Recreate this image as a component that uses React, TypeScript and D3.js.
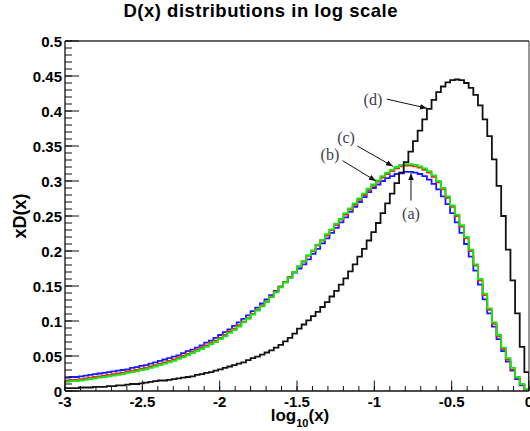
import React from "react";
import * as d3 from "d3";

const BIN_MIN = -3;
const BIN_WIDTH = 0.03;

// (a) blue
const seriesA = [
  0.019, 0.020, 0.020, 0.021, 0.022, 0.023, 0.024, 0.025, 0.026, 0.027,
  0.028, 0.029, 0.030, 0.031, 0.033, 0.034, 0.036, 0.037, 0.039, 0.041,
  0.043, 0.045, 0.047, 0.049, 0.051, 0.054, 0.057, 0.059, 0.062, 0.065,
  0.069, 0.072, 0.076, 0.080, 0.084, 0.088, 0.093, 0.098, 0.103, 0.108,
  0.114, 0.119, 0.125, 0.131, 0.137, 0.143, 0.149, 0.156, 0.162, 0.169,
  0.175, 0.181, 0.188, 0.196, 0.203, 0.211, 0.218, 0.226, 0.233, 0.241,
  0.248, 0.256, 0.263, 0.270, 0.277, 0.284, 0.290, 0.295, 0.300, 0.304,
  0.307, 0.310, 0.311, 0.313, 0.313, 0.312, 0.310, 0.307, 0.302, 0.296,
  0.288, 0.278, 0.267, 0.254, 0.241, 0.226, 0.210, 0.192, 0.172, 0.152,
  0.131, 0.111, 0.092, 0.074, 0.057, 0.042, 0.029, 0.017, 0.008, 0.002,
];

// (b) red
const seriesB = [
  0.015, 0.016, 0.016, 0.017, 0.018, 0.019, 0.020, 0.021, 0.022, 0.023,
  0.024, 0.025, 0.026, 0.028, 0.029, 0.030, 0.032, 0.033, 0.035, 0.037,
  0.039, 0.041, 0.043, 0.045, 0.048, 0.050, 0.053, 0.056, 0.059, 0.062,
  0.065, 0.069, 0.072, 0.076, 0.080, 0.085, 0.089, 0.094, 0.099, 0.104,
  0.110, 0.116, 0.122, 0.128, 0.135, 0.142, 0.149, 0.156, 0.163, 0.170,
  0.178, 0.185, 0.193, 0.200, 0.208, 0.215, 0.222, 0.230, 0.237, 0.245,
  0.252, 0.259, 0.266, 0.273, 0.280, 0.287, 0.293, 0.299, 0.305, 0.310,
  0.314, 0.318, 0.321, 0.322, 0.322, 0.321, 0.319, 0.316, 0.312, 0.306,
  0.298, 0.288, 0.276, 0.263, 0.250, 0.235, 0.218, 0.200, 0.179, 0.158,
  0.137, 0.116, 0.096, 0.078, 0.060, 0.045, 0.031, 0.019, 0.009, 0.003,
];

// (c) green
const seriesC = [
  0.013, 0.014, 0.014, 0.015, 0.016, 0.017, 0.018, 0.019, 0.020, 0.021,
  0.022, 0.023, 0.024, 0.026, 0.027, 0.028, 0.030, 0.031, 0.033, 0.035,
  0.037, 0.039, 0.041, 0.043, 0.046, 0.048, 0.051, 0.054, 0.057, 0.060,
  0.063, 0.067, 0.070, 0.074, 0.078, 0.083, 0.087, 0.092, 0.098, 0.103,
  0.109, 0.115, 0.121, 0.127, 0.134, 0.141, 0.148, 0.155, 0.162, 0.170,
  0.178, 0.186, 0.194, 0.201, 0.209, 0.216, 0.224, 0.231, 0.239, 0.246,
  0.254, 0.261, 0.268, 0.275, 0.282, 0.289, 0.295, 0.301, 0.307, 0.312,
  0.316, 0.320, 0.323, 0.324, 0.324, 0.323, 0.321, 0.318, 0.314, 0.308,
  0.300, 0.290, 0.278, 0.265, 0.252, 0.237, 0.220, 0.202, 0.181, 0.160,
  0.139, 0.118, 0.098, 0.080, 0.062, 0.047, 0.033, 0.020, 0.010, 0.003,
];

// (d) black
const seriesD = [
  0.004, 0.004, 0.004, 0.005, 0.005, 0.005, 0.006, 0.006, 0.006, 0.007,
  0.007, 0.008, 0.008, 0.009, 0.010, 0.010, 0.011, 0.012, 0.013, 0.014,
  0.015, 0.015, 0.016, 0.017, 0.018, 0.019, 0.020, 0.021, 0.023, 0.024,
  0.026, 0.027, 0.029, 0.031, 0.033, 0.035, 0.037, 0.039, 0.041, 0.044,
  0.047, 0.049, 0.052, 0.055, 0.058, 0.062, 0.066, 0.071, 0.076, 0.082,
  0.089, 0.095, 0.101, 0.107, 0.113, 0.120, 0.127, 0.135, 0.143, 0.152,
  0.161, 0.171, 0.181, 0.192, 0.203, 0.215, 0.227, 0.240, 0.254, 0.268,
  0.282, 0.297, 0.312, 0.327, 0.342, 0.357, 0.372, 0.388, 0.403, 0.416,
  0.427, 0.435, 0.441, 0.444, 0.445, 0.444, 0.440, 0.433, 0.423, 0.408,
  0.388, 0.364, 0.331, 0.293, 0.250, 0.202, 0.158, 0.111, 0.063, 0.027,
];

const xTickValues = [-3, -2.5, -2, -1.5, -1, -0.5, 0];
const xTickLabels = ["-3", "-2.5", "-2", "-1.5", "-1", "-0.5", "0"];
const yTickValues = [0, 0.05, 0.1, 0.15, 0.2, 0.25, 0.3, 0.35, 0.4, 0.45, 0.5];
const yTickLabels = ["0", "0.05", "0.1", "0.15", "0.2", "0.25", "0.3", "0.35", "0.4", "0.45", "0.5"];

const seriesList = [
  { name: "a", values: seriesA, color: "#1a1aff" },
  { name: "b", values: seriesB, color: "#e0301e" },
  { name: "c", values: seriesC, color: "#19e619" },
  { name: "d", values: seriesD, color: "#111111" },
];

const annLabels = ["(a)", "(b)", "(c)", "(d)"];
const annText = [
  [-0.763, 0.253],
  [-1.287, 0.337],
  [-1.183, 0.361],
  [-1.009, 0.416],
];
const annArrowFrom = [
  [-0.763, 0.272],
  [-1.205, 0.329],
  [-1.11, 0.350],
  [-0.92, 0.417],
];
const annArrowTo = [
  [-0.763, 0.311],
  [-0.99, 0.300],
  [-0.88, 0.321],
  [-0.66, 0.404],
];

const W = 530;
const H = 431;
const L = 65;
const R = 529;
const T = 41;
const B = 391;

export default function App() {
  const x = d3.scaleLinear().domain([-3, 0]).range([L, R]);
  const y = d3.scaleLinear().domain([0, 0.5]).range([B, T]);

  const makePath = (vals: number[]) => {
    const pts: [number, number][] = vals.map((v, i) => [BIN_MIN + i * BIN_WIDTH, v]);
    pts.push([BIN_MIN + vals.length * BIN_WIDTH, vals[vals.length - 1]]);
    const line = d3
      .line<[number, number]>()
      .x((d) => x(d[0]))
      .y((d) => y(d[1]))
      .curve(d3.curveStepAfter);
    const end = BIN_MIN + vals.length * BIN_WIDTH;
    return line(pts) + `L${x(end)},${y(0)}`;
  };

  const xMinor = d3.range(-3, 0.0001, 0.1).map((v) => +v.toFixed(2));
  const yMinor = d3.range(0, 0.5001, 0.01).map((v) => +v.toFixed(3));

  const font = "'Liberation Sans', Arial, Helvetica, sans-serif";

  return (
    <svg
      width={W}
      height={H}
      style={{ position: "absolute", left: 0, top: 0, background: "#fff" }}
      fontFamily={font}
    >
      <rect x={0} y={0} width={W} height={H} fill="#fff" />
      <defs>
        <clipPath id="plotclip">
          <rect x={L} y={T} width={R - L} height={B - T} />
        </clipPath>
        <marker
          id="arrowhead"
          viewBox="0 0 10 10"
          refX={10}
          refY={5}
          markerWidth={7}
          markerHeight={7}
          markerUnits="userSpaceOnUse"
          orient="auto"
        >
          <path d="M0,1 L10,5 L0,9 z" fill="#111" />
        </marker>
      </defs>

      {/* title */}
      <text
        x={260.5}
        y={17}
        textAnchor="middle"
        fontWeight="bold"
        fontSize={18.5}
        textLength={274}
        lengthAdjust="spacing"
      >
        D(x) distributions in log scale
      </text>

      {/* histograms */}
      <g clipPath="url(#plotclip)">
        {seriesList.map((s) => (
          <path
            key={s.name}
            d={makePath(s.values)}
            fill="none"
            stroke={s.color}
            strokeWidth={1.8}
          />
        ))}
      </g>

      {/* frame */}
      <line x1={L} x2={R} y1={T} y2={T} stroke="#333" strokeWidth={1.5} />
      <line x1={R} x2={R} y1={T} y2={B} stroke="#333" strokeWidth={1} />

      {/* x axis */}
      <line x1={L} x2={R} y1={B} y2={B} stroke="#111" strokeWidth={1.3} />
      {xMinor.map((v) => (
        <line key={"xm" + v} x1={x(v)} x2={x(v)} y1={B} y2={B - 5} stroke="#111" strokeWidth={1} />
      ))}
      {xTickValues.map((v, i) => (
        <g key={"xt" + v}>
          <line x1={x(v)} x2={x(v)} y1={B} y2={B - 10.5} stroke="#111" strokeWidth={1} />
          <text x={x(v)} y={407} textAnchor="middle" fontWeight="bold" fontSize={15}>
            {xTickLabels[i]}
          </text>
        </g>
      ))}
      <text x={300} y={421} textAnchor="middle" fontWeight="bold" fontSize={17}>
        log
        <tspan fontSize={11} dy={6}>10</tspan>
        <tspan dy={-6}>(x)</tspan>
      </text>

      {/* y axis */}
      <line x1={L} x2={L} y1={T} y2={B} stroke="#111" strokeWidth={1.3} />
      {yMinor.map((v) => (
        <line key={"ym" + v} x1={L} x2={L + 7} y1={y(v)} y2={y(v)} stroke="#111" strokeWidth={1} />
      ))}
      {yTickValues.map((v, i) => (
        <g key={"yt" + v}>
          <line x1={L} x2={L + 14} y1={y(v)} y2={y(v)} stroke="#111" strokeWidth={1} />
          <text x={62} y={y(v) + 5.5} textAnchor="end" fontWeight="bold" fontSize={15}>
            {yTickLabels[i]}
          </text>
        </g>
      ))}
      <text
        transform={`translate(26, 216) rotate(-90)`}
        textAnchor="middle"
        fontWeight="bold"
        fontSize={18}
      >
        xD(x)
      </text>

      {/* annotations */}
      {annLabels.map((lab, i) => (
        <g key={lab}>
          <line
            x1={x(annArrowFrom[i][0])}
            y1={y(annArrowFrom[i][1])}
            x2={x(annArrowTo[i][0])}
            y2={y(annArrowTo[i][1])}
            stroke="#111"
            strokeWidth={1}
            markerEnd="url(#arrowhead)"
          />
          <text
            x={x(annText[i][0])}
            y={y(annText[i][1]) + 5}
            textAnchor="middle"
            fontFamily="'Liberation Serif', 'DejaVu Serif', serif"
            fontSize={16}
            fill="#3d3d4d"
          >
            {lab}
          </text>
        </g>
      ))}
    </svg>
  );
}
